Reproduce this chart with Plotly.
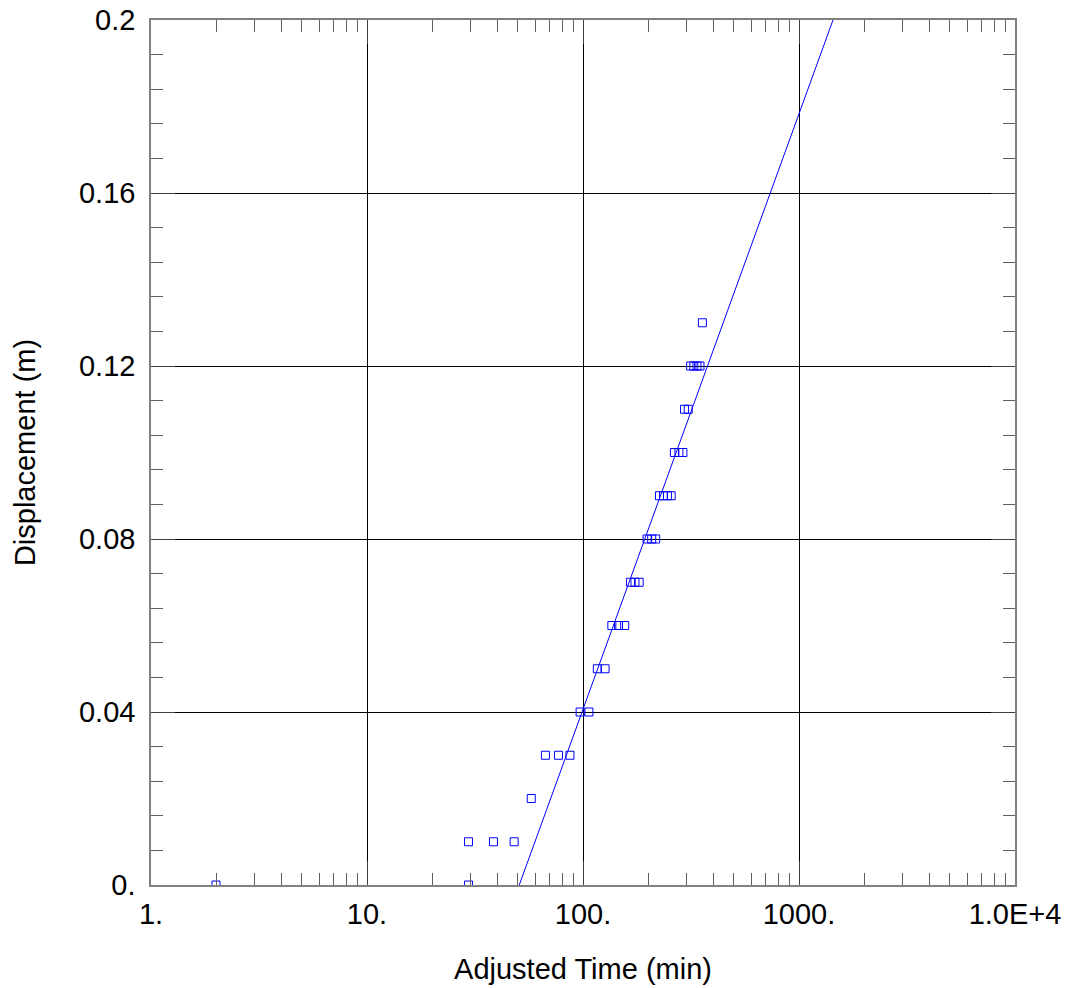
import numpy as np
import plotly.graph_objects as go

# Observed data (adjusted time in min, displacement in m)
time_min = [2, 29.5, 29.5, 38.5, 48, 57.6, 67, 77, 87, 97, 106.5, 116.5, 126.5,
            136, 146, 156, 166, 174, 182, 198, 208, 217,
            226, 236, 246, 256, 265, 278, 290, 295, 307,
            315, 326, 337, 348, 357]
displacement = [0.0, 0.0, 0.01, 0.01, 0.01, 0.02, 0.03, 0.03, 0.03, 0.04, 0.04, 0.05, 0.05,
                0.06, 0.06, 0.06, 0.07, 0.07, 0.07, 0.08, 0.08, 0.08,
                0.09, 0.09, 0.09, 0.09, 0.10, 0.10, 0.10, 0.11, 0.11,
                0.12, 0.12, 0.12, 0.12, 0.13]

# Straight-line fit: y = slope * log10(t / t0)
fit_slope = 0.1377   # m per log cycle
fit_t0 = 50.7        # min, time at zero displacement
fit_t_range = [fit_t0, 10000]

x_tickvals = [1, 10, 100, 1000, 10000]
x_ticktext = ["1.", "10.", "100.", "1000.", "1.0E+4"]
y_tickvals = [0, 0.04, 0.08, 0.12, 0.16, 0.2]
y_ticktext = ["0.", "0.04", "0.08", "0.12", "0.16", "0.2"]

fit_t = np.logspace(np.log10(fit_t_range[0]), np.log10(fit_t_range[1]), 50)
fit_y = fit_slope * np.log10(fit_t / fit_t0)

fig = go.Figure()
fig.add_trace(go.Scatter(x=fit_t, y=fit_y, mode="lines",
                         line=dict(color="#0000FF", width=1), showlegend=False))
fig.add_trace(go.Scatter(x=time_min, y=displacement, mode="markers",
                         marker=dict(symbol="square-open", size=8,
                                     color="#0000FF", line=dict(width=1)),
                         showlegend=False, cliponaxis=True))

font = "Liberation Sans, Arial, sans-serif"
fig.update_layout(
    width=1066, height=988,
    margin=dict(l=151, r=51, t=20, b=103, autoexpand=False),
    paper_bgcolor="white", plot_bgcolor="white",
    font=dict(family=font, size=29, color="black"),
)
fig.update_xaxes(
    type="log", range=[0, 4], automargin=False,
    tickvals=x_tickvals, ticktext=x_ticktext,
    showgrid=True, gridcolor="black", gridwidth=1,
    showline=True, linecolor="#808080", linewidth=1.5, mirror="allticks",
    ticks="inside", ticklen=24, tickcolor="#404040", ticklabelstandoff=2,
    minor=dict(ticks="inside", ticklen=12, dtick="D1", tickcolor="#606060", showgrid=False),
    zeroline=False,
    title=dict(text="Adjusted Time (min)", standoff=30, font=dict(size=29)),
)
fig.update_yaxes(
    range=[0, 0.2], automargin=False,
    tickvals=y_tickvals, ticktext=y_ticktext,
    showgrid=True, gridcolor="black", gridwidth=1,
    showline=True, linecolor="#808080", linewidth=1.5, mirror="allticks",
    ticks="inside", ticklen=24, tickcolor="#404040", ticklabelstandoff=8,
    minor=dict(ticks="inside", ticklen=12, dtick=0.008, tickcolor="#606060", showgrid=False),
    zeroline=False,
    title=dict(text="Displacement (m)", standoff=35, font=dict(size=29)),
)

fig.write_html("out.html", config={"displayModeBar": False},
               post_script="document.body.style.margin='0';document.body.style.overflow='hidden';")
